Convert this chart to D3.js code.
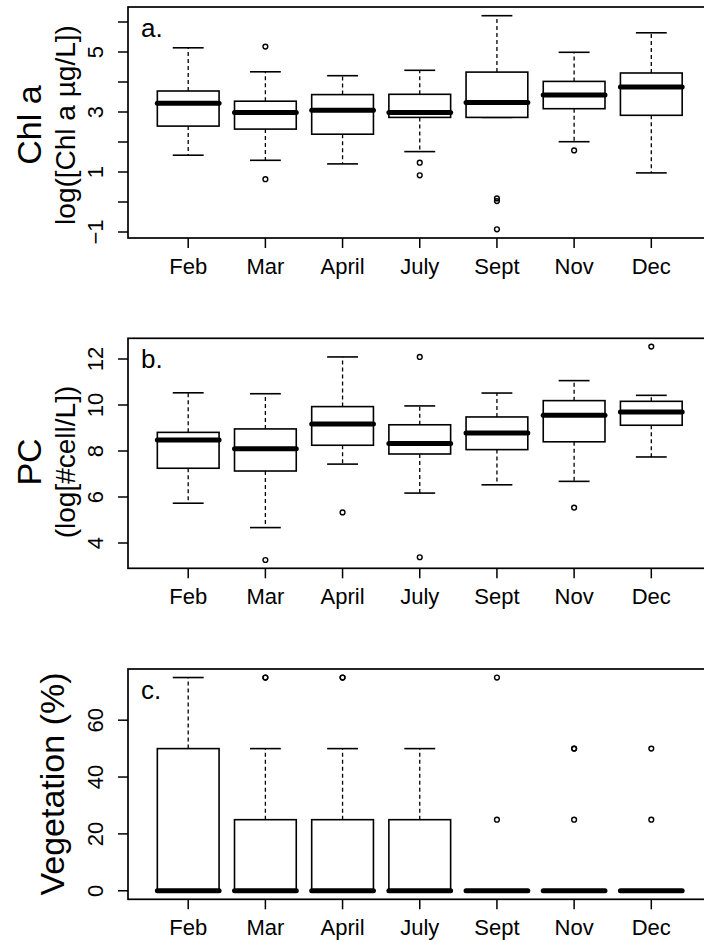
<!DOCTYPE html>
<html>
<head>
<meta charset="utf-8">
<script src="https://cdn.jsdelivr.net/npm/d3@7"></script>
<style>
  body { margin: 0; background: #fff; }
  text { font-family: "Liberation Sans", Arial, Helvetica, sans-serif; fill: #000; }
</style>
</head>
<body>
<div id="chart"></div>
<script>
// months on the x axis
const months = ["Feb", "Mar", "April", "July", "Sept", "Nov", "Dec"];

// a. Chl a, log([Chl a ug/L])
const chlLow  = [1.56, 1.39, 1.27, 1.68, 2.82, 2.01, 0.97];
const chlQ1   = [2.53, 2.43, 2.26, 2.82, 2.82, 3.11, 2.89];
const chlMed  = [3.29, 2.98, 3.06, 2.98, 3.32, 3.57, 3.83];
const chlQ3   = [3.70, 3.36, 3.58, 3.59, 4.33, 4.02, 4.30];
const chlHigh = [5.14, 4.34, 4.21, 4.39, 6.21, 4.99, 5.64];
const chlOut  = [[], [5.18, 0.76], [], [1.31, 0.89], [0.12, 0.03, -0.91], [1.72], []];
const chlTicks = [-1, 0, 1, 2, 3, 4, 5, 6];
const chlTickLabels = [-1, 1, 3, 5];

// b. PC, log[#cell/L]
const pcLow  = [5.73, 4.67, 7.43, 6.17, 6.53, 6.68, 7.74];
const pcQ1   = [7.25, 7.13, 8.25, 7.87, 8.06, 8.40, 9.12];
const pcMed  = [8.48, 8.10, 9.17, 8.33, 8.78, 9.55, 9.70];
const pcQ3   = [8.81, 8.96, 9.93, 9.14, 9.48, 10.19, 10.16];
const pcHigh = [10.53, 10.49, 12.09, 9.96, 10.52, 11.06, 10.42];
const pcOut  = [[], [3.26], [5.33], [12.09, 3.38], [], [5.54], [12.54]];
const pcTicks = [4, 6, 8, 10, 12];
const pcTickLabels = [4, 6, 8, 10, 12];

// c. Vegetation (%)
const vegLow  = [0, 0, 0, 0, 0, 0, 0];
const vegQ1   = [0, 0, 0, 0, 0, 0, 0];
const vegMed  = [0, 0, 0, 0, 0, 0, 0];
const vegQ3   = [50, 25, 25, 25, 0, 0, 0];
const vegHigh = [75, 50, 50, 50, 0, 0, 0];
const vegOut  = [[], [75, 75], [75, 75], [], [25, 75], [25, 50, 50], [25, 50]];
const vegTicks = [0, 20, 40, 60];
const vegTickLabels = [0, 20, 40, 60];

const width = 704, height = 941;
const left = 128, right = 711.5;

const svg = d3.select("#chart").append("svg")
    .attr("width", width)
    .attr("height", height);

// R style boxplot x positions 1..n, with 4% padding
const x = d3.scaleLinear().domain([0.22, 7.78]).range([left, right]);
const halfBox = 0.4, halfStaple = 0.2;

const panels = [
    { letter: "a.", top: 7, bottom: 238, domain: [-1.2, 6.5],
      title: "Chl a", sub: "log([Chl a \u00b5g/L])", titleY: 125,
      low: chlLow, q1: chlQ1, med: chlMed, q3: chlQ3, high: chlHigh, out: chlOut,
      ticks: chlTicks, labels: chlTickLabels },
    { letter: "b.", top: 338.3, bottom: 568.3, domain: [2.9, 12.9],
      title: "PC", sub: "(log[#cell/L])", titleY: 462,
      low: pcLow, q1: pcQ1, med: pcMed, q3: pcQ3, high: pcHigh, out: pcOut,
      ticks: pcTicks, labels: pcTickLabels },
    { letter: "c.", top: 669, bottom: 899.3, domain: [-3, 78],
      title: "Vegetation (%)", sub: null, titleY: 784,
      low: vegLow, q1: vegQ1, med: vegMed, q3: vegQ3, high: vegHigh, out: vegOut,
      ticks: vegTicks, labels: vegTickLabels }
];

panels.forEach(function(p) {
    let y = d3.scaleLinear().domain(p.domain).range([p.bottom, p.top]);
    let g = svg.append("g");

    // the boxes
    let box = g.selectAll(".box")
        .data(months)
        .enter()
        .append("g")
        .attr("class", "box");

    // upper and lower whiskers (dashed)
    box.append("line")
        .attr("x1", (d, i) => x(i + 1)).attr("x2", (d, i) => x(i + 1))
        .attr("y1", (d, i) => y(p.q3[i])).attr("y2", (d, i) => y(p.high[i]))
        .attr("stroke", "#000").attr("stroke-width", 1.3).attr("stroke-dasharray", "4,3");
    box.append("line")
        .attr("x1", (d, i) => x(i + 1)).attr("x2", (d, i) => x(i + 1))
        .attr("y1", (d, i) => y(p.q1[i])).attr("y2", (d, i) => y(p.low[i]))
        .attr("stroke", "#000").attr("stroke-width", 1.3).attr("stroke-dasharray", "4,3");

    // staples
    [p.high, p.low].forEach(function(arr) {
        box.append("line")
            .attr("x1", (d, i) => x(i + 1 - halfStaple)).attr("x2", (d, i) => x(i + 1 + halfStaple))
            .attr("y1", (d, i) => y(arr[i])).attr("y2", (d, i) => y(arr[i]))
            .attr("stroke", "#000").attr("stroke-width", 1.6);
    });

    box.append("rect")
        .attr("x", (d, i) => x(i + 1 - halfBox))
        .attr("width", (d, i) => x(i + 1 + halfBox) - x(i + 1 - halfBox))
        .attr("y", (d, i) => y(p.q3[i]))
        .attr("height", (d, i) => y(p.q1[i]) - y(p.q3[i]))
        .attr("fill", "#fff").attr("stroke", "#000").attr("stroke-width", 1.6);

    // median
    box.append("line")
        .attr("x1", (d, i) => x(i + 1 - halfBox)).attr("x2", (d, i) => x(i + 1 + halfBox))
        .attr("y1", (d, i) => y(p.med[i])).attr("y2", (d, i) => y(p.med[i]))
        .attr("stroke", "#000").attr("stroke-width", 5).attr("stroke-linecap", "round");

    // outliers
    box.each(function(d, i) {
        d3.select(this).selectAll("circle")
            .data(p.out[i])
            .enter()
            .append("circle")
            .attr("cx", x(i + 1))
            .attr("cy", v => y(v))
            .attr("r", 2.4)
            .attr("fill", "none").attr("stroke", "#000").attr("stroke-width", 1.4);
    });

    // frame
    g.append("rect")
        .attr("x", left).attr("y", p.top)
        .attr("width", right - left).attr("height", p.bottom - p.top)
        .attr("fill", "none").attr("stroke", "#000").attr("stroke-width", 1.7);

    // y axis ticks and rotated labels
    g.selectAll(".ytick")
        .data(p.ticks)
        .enter()
        .append("line")
        .attr("x1", left - 10).attr("x2", left)
        .attr("y1", d => y(d)).attr("y2", d => y(d))
        .attr("stroke", "#000").attr("stroke-width", 1.5);
    g.selectAll(".ylab")
        .data(p.labels)
        .enter()
        .append("text")
        .attr("transform", d => "translate(103," + y(d) + ") rotate(-90)")
        .attr("text-anchor", "middle")
        .style("font-size", "22px")
        .text(d => d < 0 ? "\u2212" + Math.abs(d) : d);

    // x axis ticks and labels
    g.selectAll(".xtick")
        .data(months)
        .enter()
        .append("line")
        .attr("x1", (d, i) => x(i + 1)).attr("x2", (d, i) => x(i + 1))
        .attr("y1", p.bottom).attr("y2", p.bottom + 10)
        .attr("stroke", "#000").attr("stroke-width", 1.5);
    g.selectAll(".xlab")
        .data(months)
        .enter()
        .append("text")
        .attr("x", (d, i) => x(i + 1))
        .attr("y", p.bottom + 36)
        .attr("text-anchor", "middle")
        .style("font-size", "22px")
        .text(d => d);

    // panel letter
    g.append("text")
        .attr("x", 141).attr("y", p.top + 30)
        .style("font-size", "26px")
        .text(p.letter);

    // y titles
    if (p.sub) {
        g.append("text")
            .attr("transform", "translate(41," + p.titleY + ") rotate(-90)")
            .attr("text-anchor", "middle")
            .style("font-size", "34px")
            .text(p.title);
        g.append("text")
            .attr("transform", "translate(75," + p.titleY + ") rotate(-90)")
            .attr("text-anchor", "middle")
            .style("font-size", "28px")
            .text(p.sub);
    } else {
        g.append("text")
            .attr("transform", "translate(64," + p.titleY + ") rotate(-90)")
            .attr("text-anchor", "middle")
            .style("font-size", "34px")
            .text(p.title);
    }
});
</script>
</body>
</html>
